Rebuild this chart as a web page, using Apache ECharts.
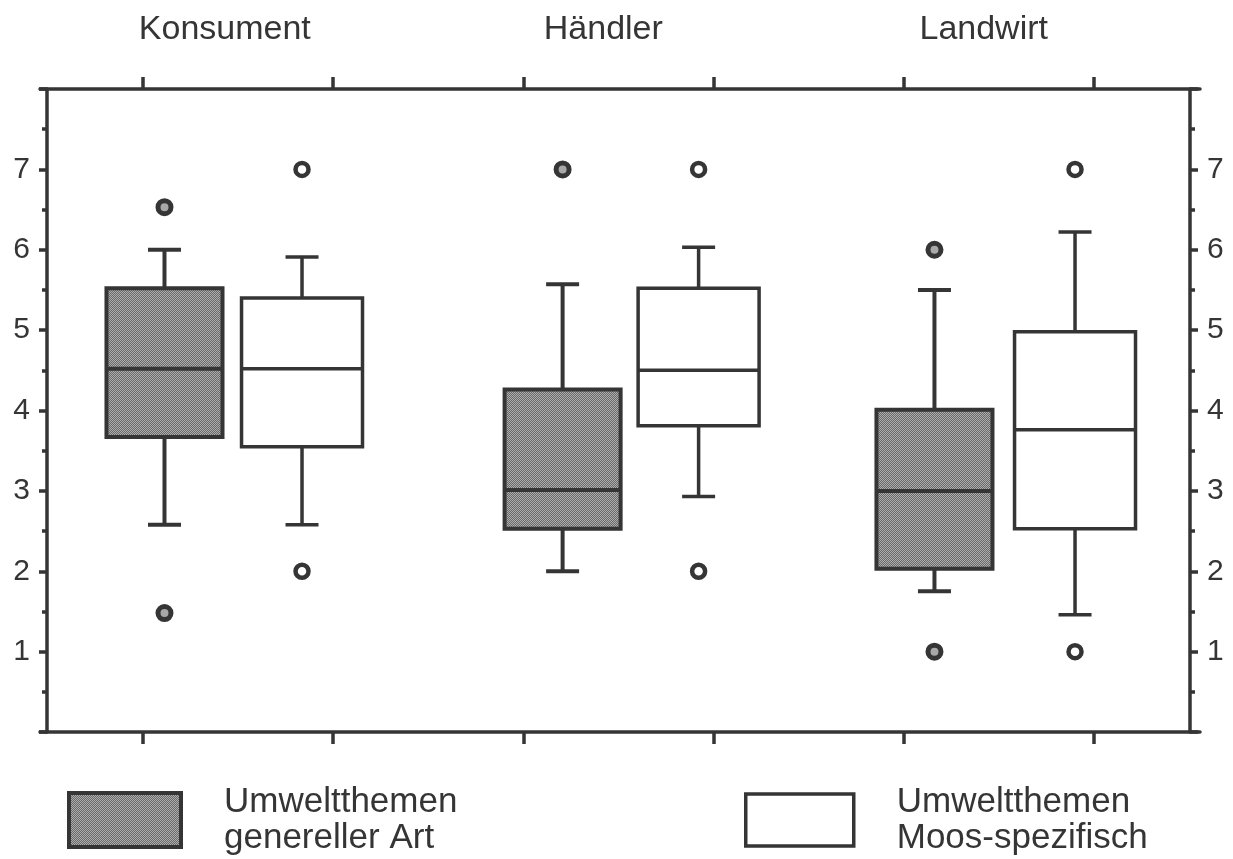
<!DOCTYPE html>
<html><head><meta charset="utf-8">
<script src="https://cdn.jsdelivr.net/npm/echarts@6/dist/echarts.min.js"></script>
<style>html,body{margin:0;padding:0;background:#fff}#c{width:1233px;height:859px}</style>
</head><body><div id="c"></div>
<script>
const categories = ['Konsument', 'Händler', 'Landwirt'];
const seriesNames = ['Umweltthemen\ngenereller Art', 'Umweltthemen\nMoos-spezifisch'];
const genPos = [1.113, 3.206, 5.161];
const moosPos = [1.836, 3.921, 5.900];
const categoryLabelPos = [1.43, 3.42, 5.42];
const xTickPos = [1, 2, 3, 4, 5, 6];
const yTicks = [1, 2, 3, 4, 5, 6, 7];
// [min, Q1, median, Q3, max]
const genBox = [[2.58, 3.67, 4.52, 5.52, 6.0], [2.0, 2.53, 3.01, 4.26, 5.57], [1.75, 2.03, 3.0, 4.01, 5.5]];
const moosBox = [[2.58, 3.55, 4.52, 5.4, 5.91], [2.93, 3.81, 4.5, 5.52, 6.03], [1.46, 2.53, 3.76, 4.98, 6.22]];
const genOutliers = [[6.53, 1.48], [7.0], [6.0, 1.0]];
const moosOutliers = [[7.0, 2.0], [7.0, 2.0], [7.0, 1.0]];

const X_MIN = 0.4585, X_MAX = 6.557;
const INK = '#353535';
const FONT = "'Liberation Sans', Arial, Helvetica, sans-serif";

function makePattern() {
  const c = document.createElement('canvas');
  c.width = 2; c.height = 2;
  const g = c.getContext('2d');
  g.fillStyle = '#6a6a6a'; g.fillRect(0, 0, 2, 2);
  g.fillStyle = '#adadad'; g.fillRect(0, 0, 1, 1); g.fillRect(1, 1, 1, 1);
  return c;
}
const patternFill = { image: makePattern(), repeat: 'repeat' };

function makeRender(boxW, capW, lw, fill) {
  return function (params, api) {
    const x = api.value(0);
    const lo = api.coord([x, api.value(1)]);
    const q1 = api.coord([x, api.value(2)]);
    const md = api.coord([x, api.value(3)]);
    const q3 = api.coord([x, api.value(4)]);
    const hi = api.coord([x, api.value(5)]);
    const w = api.size([boxW, 0])[0];
    const cw = api.size([capW, 0])[0];
    const cx = lo[0];
    const ls = { stroke: INK, lineWidth: lw };
    return {
      type: 'group', children: [
        { type: 'line', shape: { x1: cx, y1: lo[1], x2: cx, y2: q1[1] }, style: ls },
        { type: 'line', shape: { x1: cx, y1: q3[1], x2: cx, y2: hi[1] }, style: ls },
        { type: 'line', shape: { x1: cx - cw / 2, y1: lo[1], x2: cx + cw / 2, y2: lo[1] }, style: ls },
        { type: 'line', shape: { x1: cx - cw / 2, y1: hi[1], x2: cx + cw / 2, y2: hi[1] }, style: ls },
        { type: 'rect', shape: { x: cx - w / 2, y: q3[1], width: w, height: q1[1] - q3[1] }, style: { fill: fill, stroke: INK, lineWidth: lw } },
        { type: 'line', shape: { x1: cx - w / 2, y1: md[1], x2: cx + w / 2, y2: md[1] }, style: ls }
      ]
    };
  };
}

const genData = genBox.map((b, i) => [genPos[i]].concat(b));
const moosData = moosBox.map((b, i) => [moosPos[i]].concat(b));
const genOutData = [];
genOutliers.forEach((arr, i) => arr.forEach(v => genOutData.push([genPos[i], v])));
const moosOutData = [];
moosOutliers.forEach((arr, i) => arr.forEach(v => moosOutData.push([moosPos[i], v])));

const axisLine = { show: true, onZero: false, lineStyle: { color: INK, width: 3.5 } };
const tickStyle = { color: INK, width: 3.5 };

function xAxisDef(pos) {
  const top = pos === 'top';
  return {
    type: 'value', position: pos, min: X_MIN, max: X_MAX,
    axisLine: axisLine,
    axisTick: { show: true, customValues: xTickPos, length: 12, lineStyle: tickStyle },
    axisLabel: top ? {
      show: true, customValues: categoryLabelPos, margin: 42,
      fontSize: 34, fontFamily: FONT, color: INK,
      formatter: function (v) {
        let best = 0, d = 1e9;
        categoryLabelPos.forEach((p, i) => { if (Math.abs(p - v) < d) { d = Math.abs(p - v); best = i; } });
        return categories[best];
      }
    } : { show: false },
    splitLine: { show: false }
  };
}
function yAxisDef(pos, offset) {
  return {
    type: 'value', position: pos, min: 0, max: 8, interval: 1, offset: offset,
    axisLine: axisLine,
    axisTick: { show: true, length: 8, lineStyle: tickStyle },
    minorTick: { show: true, splitNumber: 2, length: 5, lineStyle: tickStyle },
    axisLabel: { show: true, customValues: yTicks, margin: 17, fontSize: 30, fontFamily: FONT, color: INK },
    splitLine: { show: false }, minorSplitLine: { show: false }
  };
}

function legendDef(name, left, w, h) {
  return {
    data: [name], left: left, top: 779, icon: 'rect', selectedMode: false,
    itemWidth: w, itemHeight: h,
    itemStyle: { color: name === seriesNames[0] ? patternFill : '#ffffff', borderColor: INK, borderWidth: name === seriesNames[0] ? 4 : 3.5 },
    textStyle: { fontSize: 35, lineHeight: 36, fontFamily: FONT, color: INK, padding: [0, 0, 0, 38] }
  };
}

const chart = echarts.init(document.getElementById('c'), null, { renderer: 'canvas' });
chart.setOption({
  animation: false,
  backgroundColor: '#ffffff',
  grid: { left: 40, right: 33, top: 89, bottom: 127, containLabel: false, outerBoundsMode: 'none' },
  xAxis: [xAxisDef('bottom'), xAxisDef('top')],
  yAxis: [yAxisDef('left', -7), yAxisDef('right', -10)],
  legend: [legendDef(seriesNames[0], 62, 112, 54), legendDef(seriesNames[1], 739, 108, 52)],
  series: [
    {
      name: seriesNames[0], type: 'custom', data: genData,
      encode: { x: 0, y: [1, 2, 3, 4, 5] },
      itemStyle: { color: patternFill, borderColor: INK },
      renderItem: makeRender(0.61, 0.1735, 4, patternFill), z: 2
    },
    {
      name: seriesNames[1], type: 'custom', data: moosData,
      encode: { x: 0, y: [1, 2, 3, 4, 5] },
      itemStyle: { color: '#ffffff', borderColor: INK },
      renderItem: makeRender(0.636, 0.1735, 3.5, '#ffffff'), z: 2
    },
    {
      name: 'Ausreißer generell', type: 'scatter', data: genOutData, symbol: 'circle', symbolSize: 13,
      itemStyle: { color: '#a8a8a8', borderColor: INK, borderWidth: 5, opacity: 1 }, z: 3
    },
    {
      name: 'Ausreißer Moos', type: 'scatter', data: moosOutData, symbol: 'circle', symbolSize: 13,
      itemStyle: { color: '#ffffff', borderColor: INK, borderWidth: 4.5, opacity: 1 }, z: 3
    }
  ]
});
</script>
</body></html>
